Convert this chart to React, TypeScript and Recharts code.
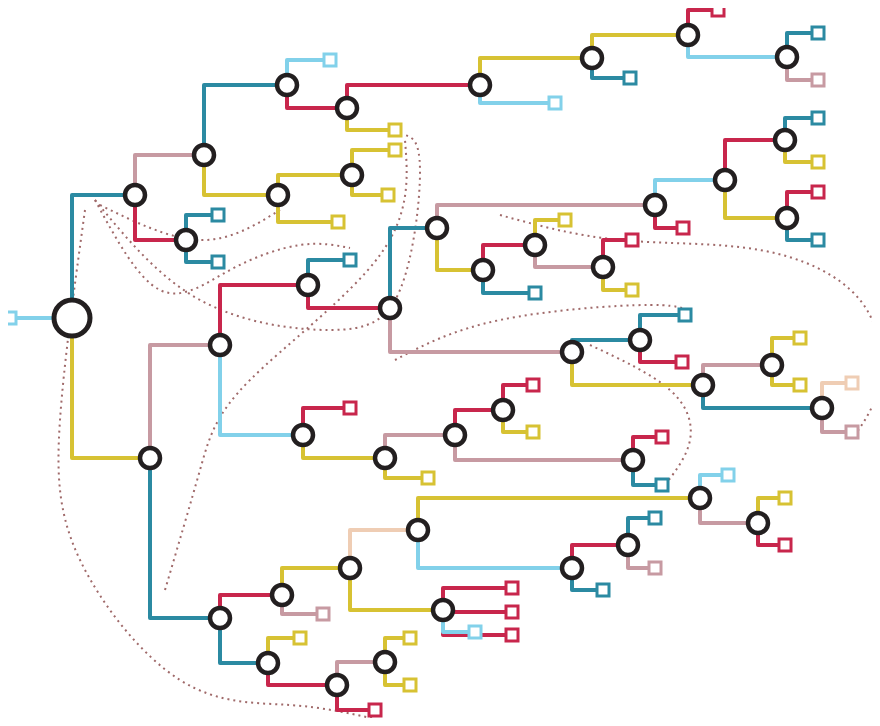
import { ComposedChart, Line, Scatter, XAxis, YAxis } from "recharts";

const TEAL = "#2b8aa2";
const RED = "#c8264c";
const YEL = "#d7c233";
const PINK = "#c79aa2";
const BLUE = "#82d1ea";
const PEACH = "#efcdb4";

// [id, x, y]
const branchNodes: [string, number, number][] = [
  ["A", 135, 195], ["B", 204, 155], ["C", 186, 240], ["D", 287, 85], ["E", 278, 195],
  ["F", 347, 108], ["G", 480, 85], ["H", 592, 58], ["I", 688, 35], ["J", 787, 57],
  ["K", 352, 175], ["L", 150, 458], ["M", 220, 345], ["N", 220, 618], ["O", 308, 285],
  ["P", 303, 435], ["Q", 390, 308], ["S", 437, 228], ["T", 572, 352], ["U", 655, 205],
  ["V", 483, 270], ["W", 535, 245], ["X", 603, 267], ["Y", 725, 180], ["Z", 785, 140],
  ["Z2", 787, 218], ["AA", 640, 340], ["AB", 703, 385], ["AC", 772, 365], ["AD", 822, 408],
  ["AE", 385, 458], ["AF", 455, 435], ["AG", 503, 410], ["AH", 633, 460], ["AI", 282, 595],
  ["AJ", 268, 663], ["AK", 350, 568], ["AL", 418, 530], ["AM", 443, 610], ["AN", 700, 498],
  ["AO", 572, 568], ["AP", 758, 523], ["AQ", 628, 545], ["AR", 337, 685], ["AS", 385, 662],
];

const rootNode: [string, number, number] = ["R", 72, 318];

// leaves: [id, x, y]
const leafNodes: [string, number, number][] = [
  ["l1", 330, 60], ["l2", 395, 130], ["l3", 555, 103], ["l4", 630, 78], ["l5", 718, 10],
  ["l6", 818, 33], ["l7", 818, 80], ["l8", 338, 222], ["l9", 395, 150], ["l10", 388, 195],
  ["l11", 218, 215], ["l12", 218, 262], ["l13", 350, 260], ["l14", 535, 293], ["l15", 565, 220],
  ["l16", 632, 240], ["l17", 632, 290], ["l18", 683, 228], ["l19", 818, 118], ["l20", 818, 162],
  ["l21", 818, 192], ["l22", 818, 240], ["l23", 685, 315], ["l24", 682, 362], ["l25", 800, 338],
  ["l26", 800, 385], ["l27", 852, 383], ["l28", 852, 432], ["l29", 350, 408], ["l30", 428, 478],
  ["l31", 533, 385], ["l32", 533, 432], ["l33", 662, 437], ["l34", 662, 485], ["l35", 323, 614],
  ["l36", 728, 475], ["l37", 785, 498], ["l38", 785, 545], ["l39", 603, 590], ["l40", 655, 518],
  ["l41", 655, 568], ["l42", 512, 588], ["l43", 512, 612], ["l44", 512, 635], ["l45", 475, 632],
  ["l46", 300, 638], ["l47", 375, 710], ["l48", 410, 638], ["l49", 410, 685], ["l0", 10, 318],
];

// [parent, child, colour]
const edges: [string, string, string][] = [
  ["R", "A", TEAL], ["R", "L", YEL], ["A", "B", PINK], ["A", "C", RED],
  ["B", "D", TEAL], ["B", "E", YEL], ["D", "l1", BLUE], ["D", "F", RED],
  ["F", "G", RED], ["F", "l2", YEL], ["G", "H", YEL], ["G", "l3", BLUE],
  ["H", "I", YEL], ["H", "l4", TEAL], ["I", "l5", RED], ["I", "J", BLUE],
  ["J", "l6", TEAL], ["J", "l7", PINK], ["E", "K", YEL], ["E", "l8", YEL],
  ["K", "l9", YEL], ["K", "l10", YEL], ["C", "l11", TEAL], ["C", "l12", TEAL],
  ["L", "M", PINK], ["L", "N", TEAL], ["M", "O", RED], ["M", "P", BLUE],
  ["O", "l13", TEAL], ["O", "Q", RED], ["Q", "S", TEAL], ["Q", "T", PINK],
  ["S", "U", PINK], ["S", "V", YEL], ["V", "W", RED], ["V", "l14", TEAL],
  ["W", "l15", YEL], ["W", "X", PINK], ["X", "l16", RED], ["X", "l17", YEL],
  ["U", "Y", BLUE], ["U", "l18", RED], ["Y", "Z", RED], ["Y", "Z2", YEL],
  ["Z", "l19", TEAL], ["Z", "l20", YEL], ["Z2", "l21", RED], ["Z2", "l22", TEAL],
  ["T", "AA", TEAL], ["T", "AB", YEL], ["AA", "l23", TEAL], ["AA", "l24", RED],
  ["AB", "AC", PINK], ["AB", "AD", TEAL], ["AC", "l25", YEL], ["AC", "l26", YEL],
  ["AD", "l27", PEACH], ["AD", "l28", PINK], ["P", "l29", RED], ["P", "AE", YEL],
  ["AE", "AF", PINK], ["AE", "l30", YEL], ["AF", "AG", RED], ["AF", "AH", PINK],
  ["AG", "l31", RED], ["AG", "l32", YEL], ["AH", "l33", RED], ["AH", "l34", TEAL],
  ["N", "AI", RED], ["N", "AJ", TEAL], ["AI", "AK", YEL], ["AI", "l35", PINK],
  ["AK", "AL", PEACH], ["AK", "AM", YEL], ["AL", "AN", YEL], ["AL", "AO", BLUE],
  ["AN", "l36", BLUE], ["AN", "AP", PINK], ["AP", "l37", YEL], ["AP", "l38", RED],
  ["AO", "AQ", RED], ["AO", "l39", TEAL], ["AQ", "l40", TEAL], ["AQ", "l41", PINK],
  ["AM", "l42", RED], ["AM", "l43", RED], ["AM", "l44", RED], ["AM", "l45", BLUE],
  ["AJ", "l46", YEL], ["AJ", "AR", RED], ["AR", "AS", PINK], ["AR", "l47", RED],
  ["AS", "l48", YEL], ["AS", "l49", YEL],
];

// dotted cross links, as sample points along the curve
const dotted: [number, number][][] = [
  [[95, 200], [200, 300], [330, 330], [400, 290], [420, 170], [405, 135]],
  [[95, 200], [160, 290], [230, 270], [300, 245], [350, 248]],
  [[85, 210], [60, 420], [80, 560], [180, 680], [290, 705], [380, 720]],
  [[100, 205], [200, 240], [280, 210]],
  [[395, 360], [500, 320], [650, 305], [690, 315]],
  [[500, 215], [620, 240], [760, 250], [860, 300], [880, 380], [855, 435]],
  [[590, 345], [670, 390], [690, 440], [665, 485]],
  [[165, 590], [200, 470], [250, 380], [380, 255], [405, 140]],
];

const all = [rootNode, ...branchNodes, ...leafNodes];
const pos: Record<string, [number, number]> = {};
all.forEach(([id, x, y]) => (pos[id] = [x, y]));

const leafColour: Record<string, string> = { l0: BLUE };
edges.forEach(([, c, col]) => (leafColour[c] = col));

const edgeLines = edges.map(([p, c, col]) => {
  const [px, py] = pos[p];
  const [cx, cy] = pos[c];
  return { col, data: [{ x: px, y: py }, { x: px, y: cy }, { x: cx, y: cy }] };
});

const leafData = leafNodes.map(([id, x, y]) => ({ x, y, col: leafColour[id] }));
const nodeData = branchNodes.map(([, x, y]) => ({ x, y }));

const LeafShape = (p: any) => (
  <rect x={p.cx - 6} y={p.cy - 6} width={12} height={12} fill="#fff"
    stroke={p.payload.col} strokeWidth={3} />
);
const NodeShape = (p: any) => (
  <circle cx={p.cx} cy={p.cy} r={10} fill="#fff" stroke="#231f20" strokeWidth={4.5} />
);
const RootShape = (p: any) => (
  <circle cx={p.cx} cy={p.cy} r={18} fill="#fff" stroke="#231f20" strokeWidth={5} />
);

export default function App() {
  return (
    <div style={{ margin: -8, width: 880, height: 726, background: "#fff" }}>
      <ComposedChart width={880} height={726} margin={{ top: 0, right: 0, bottom: 0, left: 0 }}>
        <XAxis type="number" dataKey="x" domain={[0, 880]} hide />
        <YAxis type="number" dataKey="y" domain={[0, 726]} reversed hide />
        {dotted.map((d, i) => (
          <Line key={"d" + i} data={d.map(([x, y]) => ({ x, y }))} dataKey="y" type="natural"
            stroke="#a06a6a" strokeWidth={2} strokeDasharray="2 4" dot={false}
            isAnimationActive={false} />
        ))}
        <Line data={[{ x: 10, y: 318 }, { x: 72, y: 318 }]} dataKey="y" stroke={BLUE}
          strokeWidth={4} dot={false} isAnimationActive={false} />
        {edgeLines.map((e, i) => (
          <Line key={"e" + i} data={e.data} dataKey="y" type="linear" stroke={e.col}
            strokeWidth={4} dot={false} isAnimationActive={false} strokeLinejoin="round" />
        ))}
        <Scatter data={leafData} dataKey="y" shape={LeafShape} isAnimationActive={false} />
        <Scatter data={nodeData} dataKey="y" shape={NodeShape} isAnimationActive={false} />
        <Scatter data={[{ x: 72, y: 318 }]} dataKey="y" shape={RootShape} isAnimationActive={false} />
      </ComposedChart>
    </div>
  );
}
